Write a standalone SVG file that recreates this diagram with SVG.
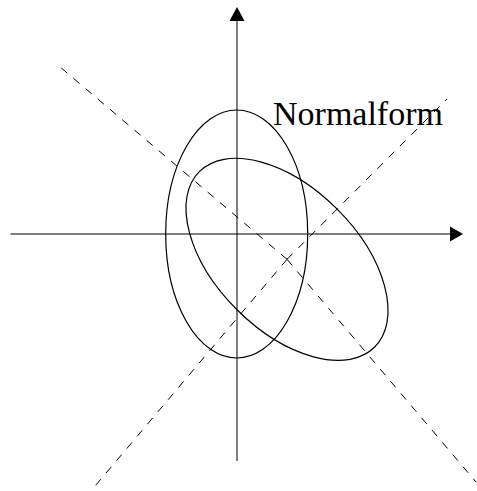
<svg xmlns="http://www.w3.org/2000/svg" width="477" height="491" viewBox="0 0 477 491">
<style>
.axis{stroke:#000;stroke-width:1;fill:none}
.ell{stroke:#000;stroke-width:1.2;fill:none}
.dash{stroke:#000;stroke-width:1;fill:none;stroke-dasharray:8 8}
.head{fill:#000;stroke:none}
.lbl{font-family:"Liberation Serif","Times New Roman",serif;font-size:34px;fill:#000}
</style>
<rect width="477" height="491" fill="#fff"/>
<g id="axes">
<line class="axis" x1="10.5" y1="234" x2="452" y2="234"/>
<polygon class="head" points="463,234 450,226.5 450,241.5"/>
<line class="axis" x1="237" y1="461" x2="237" y2="19"/>
<polygon class="head" points="237,7 229.5,21 244.5,21"/>
</g>
<g id="dashed-lines">
<line class="dash" x1="287" y1="259.3" x2="55.7" y2="63.3"/>
<line class="dash" x1="287" y1="259.3" x2="476" y2="482"/>
<line class="dash" x1="287" y1="259.3" x2="447" y2="99"/>
<line class="dash" x1="287" y1="259.3" x2="91.7" y2="490"/>
</g>
<g id="ellipse-original">
<ellipse class="ell" cx="236.7" cy="234" rx="71" ry="124"/>
</g>
<g id="ellipse-rotated">
<ellipse class="ell" cx="0" cy="0" rx="124" ry="71" transform="translate(287,259.3) rotate(45)"/>
</g>
<g id="label">
<text class="lbl" x="273" y="125">Normalform</text>
</g>
</svg>
